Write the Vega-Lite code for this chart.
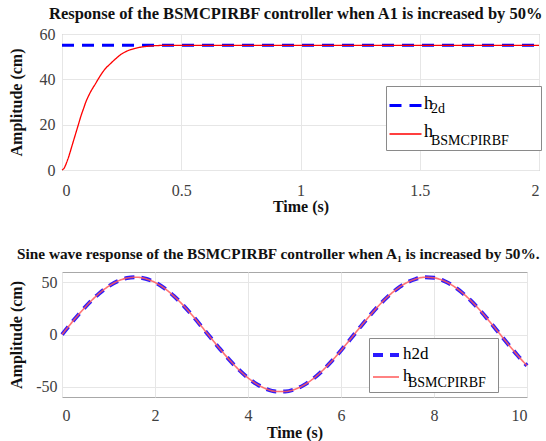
{
  "$schema": "https://vega.github.io/schema/vega-lite/v6.json",
  "padding": {"left": 7, "top": 5, "right": 0, "bottom": 0},
  "spacing": 31,
  "resolve": {
    "scale": {"color": "independent", "strokeDash": "independent", "strokeWidth": "independent", "opacity": "independent"},
    "legend": {"color": "independent", "strokeDash": "independent", "strokeWidth": "independent", "opacity": "independent"}
  },
  "config": {
    "font": "Liberation Serif",
    "view": {"stroke": "#a8a8a8", "strokeWidth": 1},
    "axis": {
      "labelFont": "Liberation Serif", "labelFontSize": 16, "labelColor": "#404040",
      "titleFont": "Liberation Serif", "titleFontSize": 16, "titleFontWeight": "bold", "titleColor": "#111111",
      "gridColor": "#e6e6e6", "domain": false, "ticks": false
    },
    "axisX": {"labelPadding": 10, "titlePadding": 1},
    "axisY": {"labelPadding": 7, "titlePadding": 15},
    "legend": {"labelFont": "Liberation Serif", "labelColor": "#000000", "title": null, "symbolType": "stroke", "rowPadding": 0, "orient": "none"},
    "title": {"font": "Liberation Serif", "fontWeight": "bold", "color": "#111111", "anchor": "start", "frame": "group"}
  },
  "vconcat": [
    {
      "width": 477,
      "height": 136,
      "title": {"text": "Response of the BSMCPIRBF controller when A1 is increased by 50%", "fontSize": 16.5, "dx": -13, "offset": 4},
      "data": {"values": [
        {"t": 0, "h2d": 55, "hBSMCPIRBF": 0},
        {"t": 0.01, "h2d": 55, "hBSMCPIRBF": 1},
        {"t": 0.02, "h2d": 55, "hBSMCPIRBF": 3.5},
        {"t": 0.03, "h2d": 55, "hBSMCPIRBF": 6.5},
        {"t": 0.04, "h2d": 55, "hBSMCPIRBF": 10},
        {"t": 0.05, "h2d": 55, "hBSMCPIRBF": 13.5},
        {"t": 0.06, "h2d": 55, "hBSMCPIRBF": 17},
        {"t": 0.07, "h2d": 55, "hBSMCPIRBF": 20.5},
        {"t": 0.08, "h2d": 55, "hBSMCPIRBF": 24},
        {"t": 0.09, "h2d": 55, "hBSMCPIRBF": 27},
        {"t": 0.1, "h2d": 55, "hBSMCPIRBF": 30},
        {"t": 0.11, "h2d": 55, "hBSMCPIRBF": 32.4},
        {"t": 0.12, "h2d": 55, "hBSMCPIRBF": 34.5},
        {"t": 0.14, "h2d": 55, "hBSMCPIRBF": 38},
        {"t": 0.16, "h2d": 55, "hBSMCPIRBF": 41.5},
        {"t": 0.18, "h2d": 55, "hBSMCPIRBF": 44.5},
        {"t": 0.2, "h2d": 55, "hBSMCPIRBF": 46.6},
        {"t": 0.22, "h2d": 55, "hBSMCPIRBF": 48.6},
        {"t": 0.25, "h2d": 55, "hBSMCPIRBF": 51.2},
        {"t": 0.28, "h2d": 55, "hBSMCPIRBF": 52.8},
        {"t": 0.32, "h2d": 55, "hBSMCPIRBF": 54},
        {"t": 0.36, "h2d": 55, "hBSMCPIRBF": 54.6},
        {"t": 0.4, "h2d": 55, "hBSMCPIRBF": 54.9},
        {"t": 0.45, "h2d": 55, "hBSMCPIRBF": 55},
        {"t": 0.5, "h2d": 55, "hBSMCPIRBF": 55},
        {"t": 1, "h2d": 55, "hBSMCPIRBF": 55},
        {"t": 1.5, "h2d": 55, "hBSMCPIRBF": 55},
        {"t": 2, "h2d": 55, "hBSMCPIRBF": 55}
      ]},
      "transform": [
        {"fold": ["h2d", "hBSMCPIRBF"], "as": ["series", "amp"]},
        {"calculate": "datum.series == 'h2d' ? '2d' : 'BSMCPIRBF'", "as": "sub"}
      ],
      "mark": {"type": "line", "interpolate": "monotone"},
      "encoding": {
        "x": {"field": "t", "type": "quantitative", "scale": {"domain": [0, 2], "nice": false},
              "axis": {"values": [0, 0.5, 1, 1.5, 2], "format": "~g", "title": "Time (s)", "labelPadding": 12, "titlePadding": 0}},
        "y": {"field": "amp", "type": "quantitative", "scale": {"domain": [0, 60], "nice": false},
              "axis": {"values": [0, 20, 40, 60], "title": "Amplitude (cm)"}},
        "color": {"field": "series", "type": "nominal",
                  "scale": {"domain": ["h2d", "hBSMCPIRBF"], "range": ["#0000ff", "#ff0000"]},
                  "legend": {"legendX": 324, "legendY": 52, "symbolSize": 1024, "labelFontSize": 18,
                             "labelOffset": 1, "padding": 2, "rowPadding": 4, "zindex": 1,
                             "labelExpr": "'h'",
                             "encode": {"labels": {"update": {"dy": {"value": -2}}}}}},
        "strokeDash": {"field": "series", "type": "nominal",
                       "scale": {"domain": ["h2d", "hBSMCPIRBF"], "range": [[12, 8], [1, 0]]}},
        "strokeWidth": {"field": "series", "type": "nominal",
                        "scale": {"type": "point", "domain": ["h2d", "hBSMCPIRBF"], "range": [3, 1.3], "padding": 0}},
        "opacity": {"field": "sub", "type": "nominal",
                    "scale": {"type": "point", "domain": ["2d", "BSMCPIRBF"], "range": [1, 1], "padding": 0},
                    "legend": {"legendX": 324, "legendY": 52, "symbolSize": 1024, "labelFontSize": 14,
                               "labelOffset": 11, "padding": 2, "rowPadding": 4, "zindex": 0,
                               "fillColor": "#ffffff", "strokeColor": "#8a8a8a",
                               "labelExpr": "datum.label == '2d' ? '2d' : 'BSMCPIRBF\u2800\u2800\u2800'",
                               "encode": {"symbols": {"update": {"opacity": {"value": 0}, "strokeWidth": {"value": 0}}},
                                          "labels": {"update": {"dy": {"value": 5}}}}}}
      }
    },
    {
      "width": 465,
      "height": 125,
      "title": {"text": "Sine wave response of the BSMCPIRBF controller when A₁ is increased by 50%.", "fontSize": 15.3, "dx": -45, "offset": 7},
      "data": {"values": [
        {"t": 0, "h2d": 0, "hBSMCPIRBF": 0},
        {"t": 0.2, "h2d": 10.93, "hBSMCPIRBF": 10.93},
        {"t": 0.4, "h2d": 21.42, "hBSMCPIRBF": 21.42},
        {"t": 0.6, "h2d": 31.05, "hBSMCPIRBF": 31.05},
        {"t": 0.8, "h2d": 39.45, "hBSMCPIRBF": 39.45},
        {"t": 1.0, "h2d": 46.28, "hBSMCPIRBF": 46.28},
        {"t": 1.2, "h2d": 51.26, "hBSMCPIRBF": 51.26},
        {"t": 1.4, "h2d": 54.2, "hBSMCPIRBF": 54.2},
        {"t": 1.6, "h2d": 54.98, "hBSMCPIRBF": 54.98},
        {"t": 1.8, "h2d": 53.56, "hBSMCPIRBF": 53.56},
        {"t": 2.0, "h2d": 50.01, "hBSMCPIRBF": 50.01},
        {"t": 2.2, "h2d": 44.47, "hBSMCPIRBF": 44.47},
        {"t": 2.4, "h2d": 37.15, "hBSMCPIRBF": 37.15},
        {"t": 2.6, "h2d": 28.35, "hBSMCPIRBF": 28.35},
        {"t": 2.8, "h2d": 18.43, "hBSMCPIRBF": 18.43},
        {"t": 3.0, "h2d": 7.76, "hBSMCPIRBF": 7.76},
        {"t": 3.2, "h2d": -3.21, "hBSMCPIRBF": -3.21},
        {"t": 3.4, "h2d": -14.05, "hBSMCPIRBF": -14.05},
        {"t": 3.6, "h2d": -24.34, "hBSMCPIRBF": -24.34},
        {"t": 3.8, "h2d": -33.65, "hBSMCPIRBF": -33.65},
        {"t": 4.0, "h2d": -41.62, "hBSMCPIRBF": -41.62},
        {"t": 4.2, "h2d": -47.94, "hBSMCPIRBF": -47.94},
        {"t": 4.4, "h2d": -52.34, "hBSMCPIRBF": -52.34},
        {"t": 4.6, "h2d": -54.65, "hBSMCPIRBF": -54.65},
        {"t": 4.8, "h2d": -54.79, "hBSMCPIRBF": -54.79},
        {"t": 5.0, "h2d": -52.74, "hBSMCPIRBF": -52.74},
        {"t": 5.2, "h2d": -48.59, "hBSMCPIRBF": -48.59},
        {"t": 5.4, "h2d": -42.5, "hBSMCPIRBF": -42.5},
        {"t": 5.6, "h2d": -34.72, "hBSMCPIRBF": -34.72},
        {"t": 5.8, "h2d": -25.55, "hBSMCPIRBF": -25.55},
        {"t": 6.0, "h2d": -15.37, "hBSMCPIRBF": -15.37},
        {"t": 6.2, "h2d": -4.57, "hBSMCPIRBF": -4.57},
        {"t": 6.4, "h2d": 6.41, "hBSMCPIRBF": 6.41},
        {"t": 6.6, "h2d": 17.13, "hBSMCPIRBF": 17.13},
        {"t": 6.8, "h2d": 27.18, "hBSMCPIRBF": 27.18},
        {"t": 7.0, "h2d": 36.13, "hBSMCPIRBF": 36.13},
        {"t": 7.2, "h2d": 43.65, "hBSMCPIRBF": 43.65},
        {"t": 7.4, "h2d": 49.43, "hBSMCPIRBF": 49.43},
        {"t": 7.6, "h2d": 53.23, "hBSMCPIRBF": 53.23},
        {"t": 7.8, "h2d": 54.92, "hBSMCPIRBF": 54.92},
        {"t": 8.0, "h2d": 54.42, "hBSMCPIRBF": 54.42},
        {"t": 8.2, "h2d": 51.74, "hBSMCPIRBF": 51.74},
        {"t": 8.4, "h2d": 47.0, "hBSMCPIRBF": 47.0},
        {"t": 8.6, "h2d": 40.39, "hBSMCPIRBF": 40.39},
        {"t": 8.8, "h2d": 32.17, "hBSMCPIRBF": 32.17},
        {"t": 9.0, "h2d": 22.67, "hBSMCPIRBF": 22.67},
        {"t": 9.2, "h2d": 12.26, "hBSMCPIRBF": 12.26},
        {"t": 9.4, "h2d": 1.36, "hBSMCPIRBF": 1.36},
        {"t": 9.6, "h2d": -9.59, "hBSMCPIRBF": -9.59},
        {"t": 9.8, "h2d": -20.16, "hBSMCPIRBF": -20.16},
        {"t": 10.0, "h2d": -29.92, "hBSMCPIRBF": -29.92}
      ]},
      "transform": [
        {"fold": ["h2d", "hBSMCPIRBF"], "as": ["series", "amp"]},
        {"calculate": "datum.series == 'h2d' ? '2d' : 'BSMCPIRBF'", "as": "sub"}
      ],
      "mark": {"type": "line", "interpolate": "monotone"},
      "encoding": {
        "x": {"field": "t", "type": "quantitative", "scale": {"domain": [0, 10], "nice": false},
              "axis": {"values": [0, 2, 4, 6, 8, 10], "title": "Time (s)"}},
        "y": {"field": "amp", "type": "quantitative", "scale": {"domain": [-60, 60], "nice": false},
              "axis": {"values": [-50, 0, 50], "title": "Amplitude (cm)", "titlePadding": 11, "labelPadding": 5,
                       "labelExpr": "datum.value < 0 ? '-' + abs(datum.value) : '' + datum.value"}},
        "color": {"field": "series", "type": "nominal",
                  "scale": {"domain": ["h2d", "hBSMCPIRBF"], "range": ["#2a1aff", "#ff5a5a"]},
                  "legend": {"legendX": 307, "legendY": 66, "symbolSize": 676, "labelFontSize": 17,
                             "labelOffset": 2, "padding": 2, "zindex": 1,
                             "labelExpr": "datum.label == 'h2d' ? 'h2d' : 'h'",
                             "encode": {"labels": {"update": {"dy": {"value": -1}}}}}},
        "strokeDash": {"field": "series", "type": "nominal",
                       "scale": {"domain": ["h2d", "hBSMCPIRBF"], "range": [[10, 7], [1, 0]]}},
        "strokeWidth": {"field": "series", "type": "nominal",
                        "scale": {"type": "point", "domain": ["h2d", "hBSMCPIRBF"], "range": [4, 1.6], "padding": 0}},
        "opacity": {"field": "sub", "type": "nominal",
                    "scale": {"type": "point", "domain": ["2d", "BSMCPIRBF"], "range": [1, 0.85], "padding": 0},
                    "legend": {"legendX": 307, "legendY": 66, "symbolSize": 676, "labelFontSize": 14,
                               "labelOffset": 11, "padding": 2, "zindex": 0,
                               "fillColor": "#ffffff", "strokeColor": "#8a8a8a",
                               "labelExpr": "datum.label == '2d' ? '' : 'BSMCPIRBF\u2800'",
                               "encode": {"symbols": {"update": {"opacity": {"value": 0}, "strokeWidth": {"value": 0}}},
                                          "labels": {"update": {"dy": {"value": 5}}}}}}
      }
    }
  ]
}
